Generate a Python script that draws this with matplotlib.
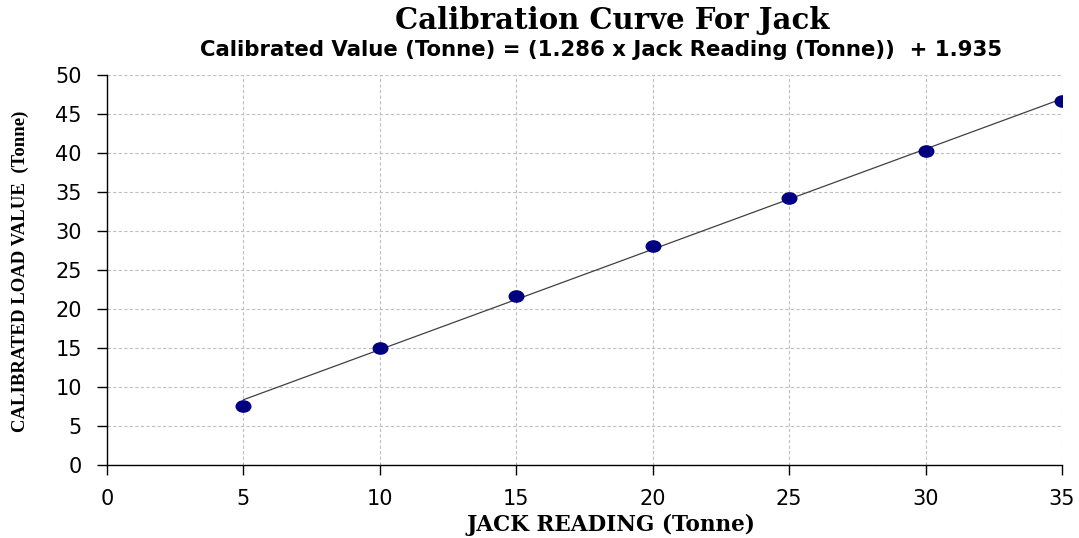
import numpy as np
import matplotlib.pyplot as plt
from matplotlib.path import Path
from matplotlib.transforms import Affine2D

jack_reading = [5, 10, 15, 20, 25, 30, 35]
calibrated_load = [7.6, 15.0, 21.7, 28.1, 34.2, 40.3, 46.7]

slope = 1.286
intercept = 1.935

x_ticks = [0, 5, 10, 15, 20, 25, 30, 35]
y_ticks = [0, 5, 10, 15, 20, 25, 30, 35, 40, 45, 50]

fig = plt.figure(figsize=(10.79, 5.38), dpi=100)
ax = fig.add_axes([107 / 1079, 73 / 538, 955 / 1079, 390 / 538])

# fitted trend line through the equation in the subtitle
xs = np.array([jack_reading[0], jack_reading[-1]])
ax.plot(xs, slope * xs + intercept, color='#404040', lw=0.9, zorder=2)

# slightly flattened dot marker
ellipse = Path.unit_circle().transformed(Affine2D().scale(1.3, 1.0))
ax.plot(jack_reading, calibrated_load, ls='none', marker=ellipse,
        ms=10.5, color='#000080', zorder=3)

ax.set_xlim(0, 35)
ax.set_ylim(0, 50)
ax.set_xticks(x_ticks)
ax.set_yticks(y_ticks)
ax.grid(True, color='#c0c0c0', ls=(0, (3, 2)), lw=0.8)
ax.set_axisbelow(True)

for s in ['top', 'right']:
    ax.spines[s].set_visible(False)
for s in ['left', 'bottom']:
    ax.spines[s].set_color('black')
    ax.spines[s].set_linewidth(1.0)

ax.tick_params(axis='both', direction='out', length=7, width=1,
               labelsize=15, colors='black')
ax.tick_params(axis='y', pad=11)
ax.tick_params(axis='x', pad=10)
for lab in ax.get_xticklabels() + ax.get_yticklabels():
    lab.set_family('DejaVu Sans')

fig.text(0.567, 0.962, 'Calibration Curve For Jack', ha='center', va='center',
         family='DejaVu Serif', weight='bold', fontsize=21)
fig.text(0.557, 0.907, 'Calibrated Value (Tonne) = (1.286 x Jack Reading (Tonne))  + 1.935',
         ha='center', va='center', family='DejaVu Sans', weight='bold', fontsize=15.3)
fig.text(0.566, 0.024, 'JACK READING (Tonne)', ha='center', va='center',
         family='DejaVu Serif', weight='bold', fontsize=15.5)
fig.text(0.019, 0.495, 'CALIBRATED LOAD VALUE  (Tonne)', ha='center', va='center',
         rotation=90, family='Liberation Serif', weight='bold', fontsize=13.5)

fig.savefig('out.png', dpi=100, facecolor='white')
